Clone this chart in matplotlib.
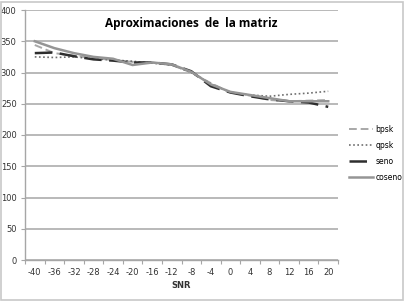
import matplotlib.pyplot as plt
from matplotlib.patches import Rectangle

# ---------- data ----------
snr = [-40, -36, -32, -28, -24, -20, -16, -12, -8, -4, 0, 4, 8, 12, 16, 20]
bpsk = [344, 331, 327, 323, 320, 317, 316, 312, 300, 283, 268, 263, 256, 254, 255, 256]
qpsk = [325, 324, 325, 322, 320, 318, 315, 312, 300, 282, 268, 264, 262, 265, 267, 270]
seno = [331, 332, 326, 321, 319, 316, 316, 313, 302, 278, 268, 262, 257, 254, 252, 245]
coseno = [350, 339, 331, 325, 322, 312, 316, 313, 301, 281, 269, 264, 259, 254, 254, 254]

grid_c = "#a6a6a6"

fig = plt.figure(figsize=(4.05, 3.01), dpi=100)
ax = fig.add_axes([25 / 405, 1 - 260 / 301, 313 / 405, 250 / 301])

ax.plot(snr, bpsk, color="#a8a8a8", lw=1.4, ls=(0, (4, 2)), label="bpsk")
ax.plot(snr, qpsk, color="#6e6e6e", lw=1.2, ls=(0, (1, 1.5)), label="qpsk")
ax.plot(snr, seno, color="#2e2e2e", lw=1.8, ls=(0, (7, 3)), label="seno")
ax.plot(snr, coseno, color="#959595", lw=1.8, label="coseno")

ax.set_xlim(-42, 22)
ax.set_ylim(0, 400)
ax.set_yticks(range(0, 401, 50))
ax.set_xticks(range(-42, 23, 4))
ax.set_xticklabels([])
ax.set_xticks(snr, minor=True)
ax.set_xticklabels([str(v) for v in snr], minor=True)
ax.tick_params(axis="x", which="major", length=3, color=grid_c, direction="out")
ax.tick_params(axis="x", which="minor", length=0, labelsize=6, pad=6, labelcolor="#333333")
ax.tick_params(axis="y", length=3, color=grid_c, labelsize=6, labelcolor="#333333", pad=3)

ax.grid(True, axis="y", color=grid_c, lw=1.1)
ax.set_axisbelow(True)
for s in ("top", "right"):
    ax.spines[s].set_visible(False)
for s in ("left", "bottom"):
    ax.spines[s].set_color(grid_c)
    ax.spines[s].set_linewidth(1.0)

ax.set_xlabel("SNR", fontsize=6, fontweight="bold", labelpad=3, color="#333333")
ax.text(0.53, 0.948, "Aproximaciones  de  la matriz", transform=ax.transAxes,
        ha="center", va="center", fontsize=8.5, fontweight="bold", family="Open Sans")

fig.legend(loc="upper left", bbox_to_anchor=(342 / 405, 1 - 118 / 301), frameon=False,
           fontsize=5.5, handlelength=3.2, handletextpad=0.3, labelspacing=0.9)

fig.patches.append(Rectangle((0.003, 0.004), 0.993, 0.99, transform=fig.transFigure,
                             fill=False, ec="#c8c8c8", lw=1.2))

fig.savefig("out.png", dpi=100)
